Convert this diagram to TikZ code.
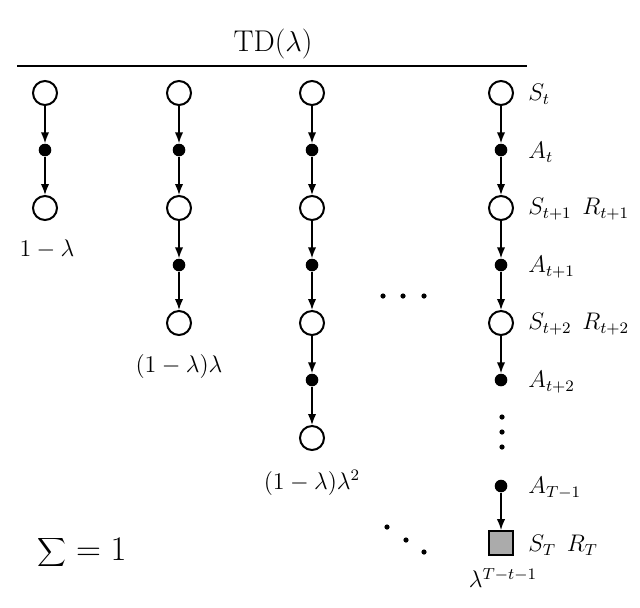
\documentclass[tikz,border=0pt]{standalone}
\usetikzlibrary{arrows.meta}
\begin{document}
\begin{tikzpicture}[x=0.5pt,y=-0.5pt,
  st/.style={circle,draw,line width=1pt,minimum size=12pt,inner sep=0pt},
  act/.style={circle,fill,minimum size=6.3pt,inner sep=0pt},
  term/.style={rectangle,draw,line width=0.9pt,fill=black!33,minimum size=12pt,inner sep=0pt},
  arr/.style={line width=0.8pt,-{Latex[length=5.5pt,width=4.2pt]}},
  lab/.style={font=\fontsize{12}{14}\selectfont,anchor=west,inner sep=0pt},
  prob/.style={font=\fontsize{12}{14}\selectfont,inner sep=0pt},
  ell/.style={fill,circle,inner sep=0pt,minimum size=2.6pt}]
\useasboundingbox (0,0) rectangle (640,607);
% header
\node[font=\fontsize{15}{18}\selectfont,inner sep=0pt] (td) at (273,44) {TD($\lambda$)};
\coordinate (hl) at (17,66);
\coordinate (hr) at (527,66);
\draw[line width=1pt] (hl) -- (hr);
% column 1
\node[st] (a1) at (45,93) {};
\node[act] (a2) at (45,150) {};
\node[st] (a3) at (45,208) {};
\draw[arr] (a1) -- (a2);
\draw[arr] (a2) -- (a3);
\node[prob] (p1) at (47,249) {$1-\lambda$};
% column 2
\node[st] (b1) at (179,93) {};
\node[act] (b2) at (179,150) {};
\node[st] (b3) at (179,208) {};
\node[act] (b4) at (179,265) {};
\node[st] (b5) at (179,323) {};
\draw[arr] (b1) -- (b2);
\draw[arr] (b2) -- (b3);
\draw[arr] (b3) -- (b4);
\draw[arr] (b4) -- (b5);
\node[prob] (p2) at (179,366) {$(1-\lambda)\lambda$};
% column 3
\node[st] (c1) at (312,93) {};
\node[act] (c2) at (312,150) {};
\node[st] (c3) at (312,208) {};
\node[act] (c4) at (312,265) {};
\node[st] (c5) at (312,323) {};
\node[act] (c6) at (312,380) {};
\node[st] (c7) at (312,438) {};
\draw[arr] (c1) -- (c2);
\draw[arr] (c2) -- (c3);
\draw[arr] (c3) -- (c4);
\draw[arr] (c4) -- (c5);
\draw[arr] (c5) -- (c6);
\draw[arr] (c6) -- (c7);
\node[prob] (p3) at (312,483) {$(1-\lambda)\lambda^2$};
% column 4
\node[st] (d1) at (501,93) {};
\node[act] (d2) at (501,150) {};
\node[st] (d3) at (501,208) {};
\node[act] (d4) at (501,265) {};
\node[st] (d5) at (501,323) {};
\node[act] (d6) at (501,380) {};
\node[act] (d7) at (501,486) {};
\node[term] (d8) at (501,543) {};
\draw[arr] (d1) -- (d2);
\draw[arr] (d2) -- (d3);
\draw[arr] (d3) -- (d4);
\draw[arr] (d4) -- (d5);
\draw[arr] (d5) -- (d6);
\draw[arr] (d7) -- (d8);
\node[prob] (p4) at (503,578) {$\lambda^{T-t-1}$};
% right labels
\node[lab] (l1) at (528,94) {$S_t$};
\node[lab] (l2) at (528,152) {$A_t$};
\node[lab] (l3) at (528,209) {$S_{t+1}\;\,R_{t+1}$};
\node[lab] (l4) at (528,267) {$A_{t+1}$};
\node[lab] (l5) at (528,324) {$S_{t+2}\;\,R_{t+2}$};
\node[lab] (l6) at (528,382) {$A_{t+2}$};
\node[lab] (l7) at (528,488) {$A_{T-1}$};
\node[lab] (l8) at (528,545) {$S_T\;\,R_T$};
% ellipses
\node[ell] (h1) at (383,296) {};
\node[ell] (h2) at (403,296) {};
\node[ell] (h3) at (424,296) {};
\node[ell] (v1) at (502,417) {};
\node[ell] (v2) at (502,432) {};
\node[ell] (v3) at (502,447) {};
\node[ell] (e1) at (387,527) {};
\node[ell] (e2) at (406,540) {};
\node[ell] (e3) at (424,552) {};
% sum
\node[font=\fontsize{17}{20}\selectfont,inner sep=0pt] (sum) at (82,552) {$\displaystyle\sum=1$};
\end{tikzpicture}
\end{document}
